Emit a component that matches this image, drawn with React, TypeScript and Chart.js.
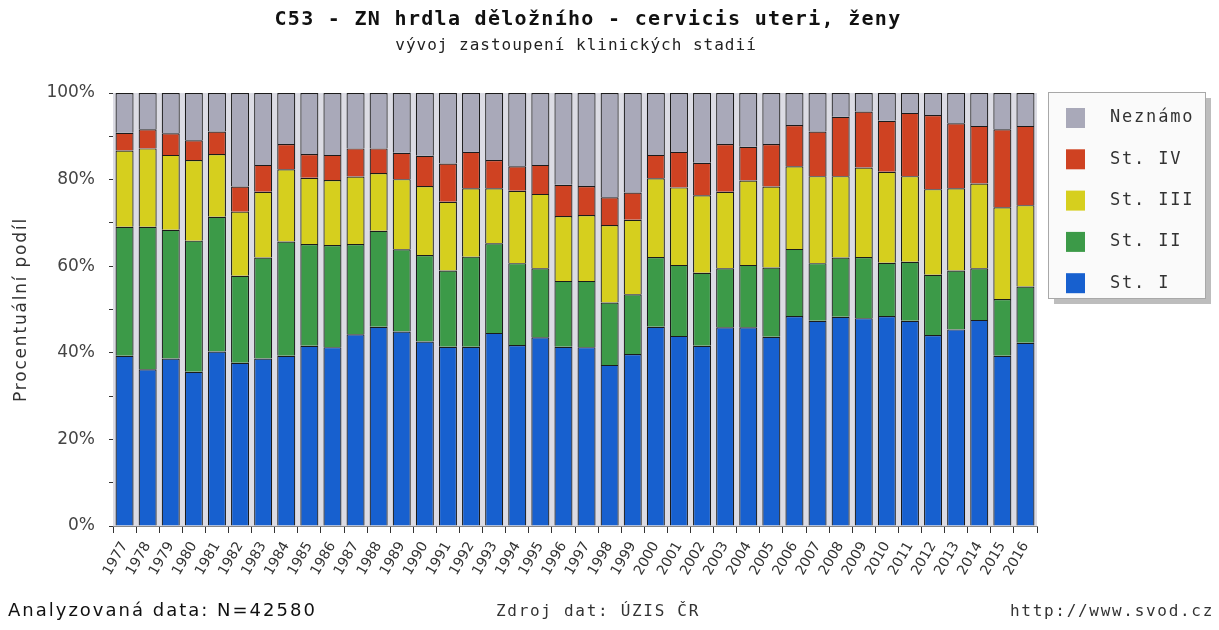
import React, { useEffect, useRef } from "react";
import { Chart, registerables } from "chart.js";

Chart.register(...registerables);

const years = [
  "1977","1978","1979","1980","1981","1982","1983","1984","1985","1986",
  "1987","1988","1989","1990","1991","1992","1993","1994","1995","1996",
  "1997","1998","1999","2000","2001","2002","2003","2004","2005","2006",
  "2007","2008","2009","2010","2011","2012","2013","2014","2015","2016",
];

const stI = [39.3,36.2,38.7,35.6,40.3,37.7,38.7,39.3,41.6,41.3,44.3,46.0,44.9,42.6,41.4,41.4,44.6,41.8,43.6,41.4,41.3,37.2,39.7,46.0,43.9,41.6,45.9,45.9,43.7,48.5,47.4,48.3,48.0,48.5,47.4,44.1,45.4,47.6,39.3,42.3];
const stII = [29.8,32.9,29.7,30.3,31.1,20.1,23.3,26.4,23.5,23.6,20.8,22.2,19.0,20.0,17.6,20.8,20.7,18.9,15.9,15.2,15.3,14.4,13.8,16.1,16.4,16.9,13.6,14.4,16.0,15.5,13.3,13.7,14.1,12.3,13.6,13.9,13.6,11.9,13.1,13.0];
const stIII = [17.6,18.1,17.3,18.6,14.5,14.8,15.2,16.7,15.3,15.0,15.6,13.3,16.2,15.9,15.9,15.8,12.7,16.7,17.2,15.0,15.2,17.9,17.2,18.2,17.9,17.9,17.7,19.5,18.7,19.1,20.1,18.8,20.7,21.0,19.8,19.8,19.0,19.6,21.2,18.8];
const stIV = [4.1,4.4,5.0,4.6,5.2,5.8,6.2,5.8,5.5,5.8,6.5,5.7,6.1,7.0,8.8,8.4,6.5,5.7,6.7,7.2,6.7,6.4,6.3,5.4,8.2,7.5,11.0,7.8,9.8,9.5,10.3,13.7,12.9,11.8,14.6,17.1,15.0,13.3,18.0,18.3];
const unknown = [9.2,8.4,9.3,10.9,8.9,21.6,16.6,11.8,14.1,14.3,12.8,12.8,13.8,14.5,16.3,13.6,15.5,16.9,16.6,21.2,21.5,24.1,23.0,14.3,13.6,16.1,11.8,12.4,11.8,7.4,8.9,5.5,4.3,6.4,4.6,5.1,7.0,7.6,8.4,7.6];

const seriesNames = ["St. I", "St. II", "St. III", "St. IV", "Neznámo"];
const seriesColors = ["#1760cf", "#3c9a48", "#d6cf1e", "#cf4222", "#a9a9b9"];
const yTicks = [0, 20, 40, 60, 80, 100];

const titleText = "C53 - ZN hrdla děložního - cervicis uteri, ženy";
const subtitleText = "vývoj zastoupení klinických stadií";
const yTitle = "Procentuální podíl";
const footLeft = "Analyzovaná data: N=42580";
const footMid = "Zdroj dat: ÚZIS ČR";
const footRight = "http://www.svod.cz";

export default function App() {
  const ref = useRef<HTMLCanvasElement | null>(null);

  useEffect(() => {
    const canvas = ref.current;
    if (!canvas) return;
    document.body.style.margin = "0";

    const bgPlugin = {
      id: "plotbg",
      beforeDatasetsDraw(chart: any) {
        const { ctx, chartArea: a } = chart;
        ctx.save();
        ctx.fillStyle = "#dcdce4";
        ctx.fillRect(a.left, a.top, a.right - a.left, a.bottom - a.top);
        ctx.restore();
      },
    };

    const setLS = (ctx: any, v: number) => {
      try { ctx.letterSpacing = v + "px"; } catch (e) {}
    };

    const textPlugin = {
      id: "texts",
      afterDraw(chart: any) {
        const { ctx, chartArea: a } = chart;
        ctx.save();
        ctx.fillStyle = "#111";
        ctx.textAlign = "center";
        ctx.textBaseline = "middle";
        ctx.font = "bold 20px 'DejaVu Sans Mono'";
        setLS(ctx, 1.3);
        ctx.fillText(titleText, 588, 20);
        ctx.fillStyle = "#222";
        ctx.font = "16px 'DejaVu Sans Mono'";
        setLS(ctx, 1.0);
        ctx.fillText(subtitleText, 576, 46);

        // y title
        ctx.save();
        ctx.translate(22, (a.top + a.bottom) / 2);
        ctx.rotate(-Math.PI / 2);
        ctx.font = "17px 'DejaVu Sans'";
        setLS(ctx, 1.8);
        ctx.fillStyle = "#333";
        ctx.fillText(yTitle, 0, 0);
        ctx.restore();

        // footer
        ctx.fillStyle = "#111";
        ctx.textAlign = "left";
        ctx.font = "18px 'DejaVu Sans'";
        setLS(ctx, 2.0);
        ctx.fillText(footLeft, 8, 611);
        ctx.font = "16px 'DejaVu Sans Mono'";
        setLS(ctx, 1.7);
        ctx.fillStyle = "#333";
        ctx.textAlign = "center";
        ctx.fillText(footMid, 598, 612);
        ctx.textAlign = "right";
        ctx.fillText(footRight, 1214, 612);

        // legend
        const lx = 1048, ly = 92, lw = 157, lh = 206;
        setLS(ctx, 0);
        ctx.fillStyle = "#bdbdbd";
        ctx.fillRect(lx + 6, ly + 6, lw, lh);
        ctx.fillStyle = "#fafafa";
        ctx.fillRect(lx, ly, lw, lh);
        ctx.strokeStyle = "#a8a8a8";
        ctx.lineWidth = 1;
        ctx.strokeRect(lx + 0.5, ly + 0.5, lw, lh);
        ctx.textAlign = "left";
        ctx.font = "17px 'DejaVu Sans Mono'";
        setLS(ctx, 1.8);
        for (let i = 0; i < 5; i++) {
          const idx = 4 - i;
          const y = 118 + i * 41.3;
          ctx.fillStyle = seriesColors[idx];
          ctx.fillRect(1066, y - 10, 19, 20);
          ctx.fillStyle = "#333";
          ctx.fillText(seriesNames[idx], 1110, y);
        }
        ctx.restore();
      },
    };

    const data = [stI, stII, stIII, stIV, unknown];

    const chart = new Chart(canvas, {
      type: "bar",
      data: {
        labels: years,
        datasets: data.map((d, i) => ({
          label: seriesNames[i],
          data: d,
          backgroundColor: seriesColors[i],
          borderColor: "#1b1b1b",
          borderWidth: 1.2,
          barPercentage: 0.78,
          categoryPercentage: 1,
        })),
      },
      options: {
        animation: false,
        responsive: false,
        maintainAspectRatio: false,
        layout: { padding: { left: 0, right: 182, top: 93, bottom: 0 } },
        plugins: {
          legend: { display: false },
          title: { display: false },
          tooltip: { enabled: false },
        },
        scales: {
          x: {
            stacked: true,
            grid: { display: true, drawOnChartArea: false, tickLength: 7, color: "#333", offset: true },
            border: { display: true, color: "#888" },
            ticks: {
              color: "#333",
              font: { family: "'DejaVu Sans'", size: 14 },
              minRotation: 60,
              maxRotation: 60,
              autoSkip: false,
              padding: 6,
            },
            afterFit(s: any) { s.height = 104; },
          },
          y: {
            stacked: true,
            min: 0,
            max: 100,
            grid: { display: true, drawOnChartArea: false, tickLength: 4, color: "#333" },
            border: { display: true, color: "#888" },
            ticks: {
              stepSize: 10,
              color: "#444",
              font: { family: "'DejaVu Sans'", size: 17 },
              padding: 14,
              callback: (v: any) => (yTicks.includes(v) ? v + "%" : ""),
            },
            afterFit(s: any) { s.width = 113; },
          },
        },
      },
      plugins: [bgPlugin, textPlugin],
    });
    return () => chart.destroy();
  }, []);

  return (
    <div style={{ position: "absolute", left: 0, top: 0, width: 1219, height: 630, background: "#fff" }}>
      <canvas ref={ref} width={1219} height={630} style={{ width: 1219, height: 630 }} />
    </div>
  );
}
